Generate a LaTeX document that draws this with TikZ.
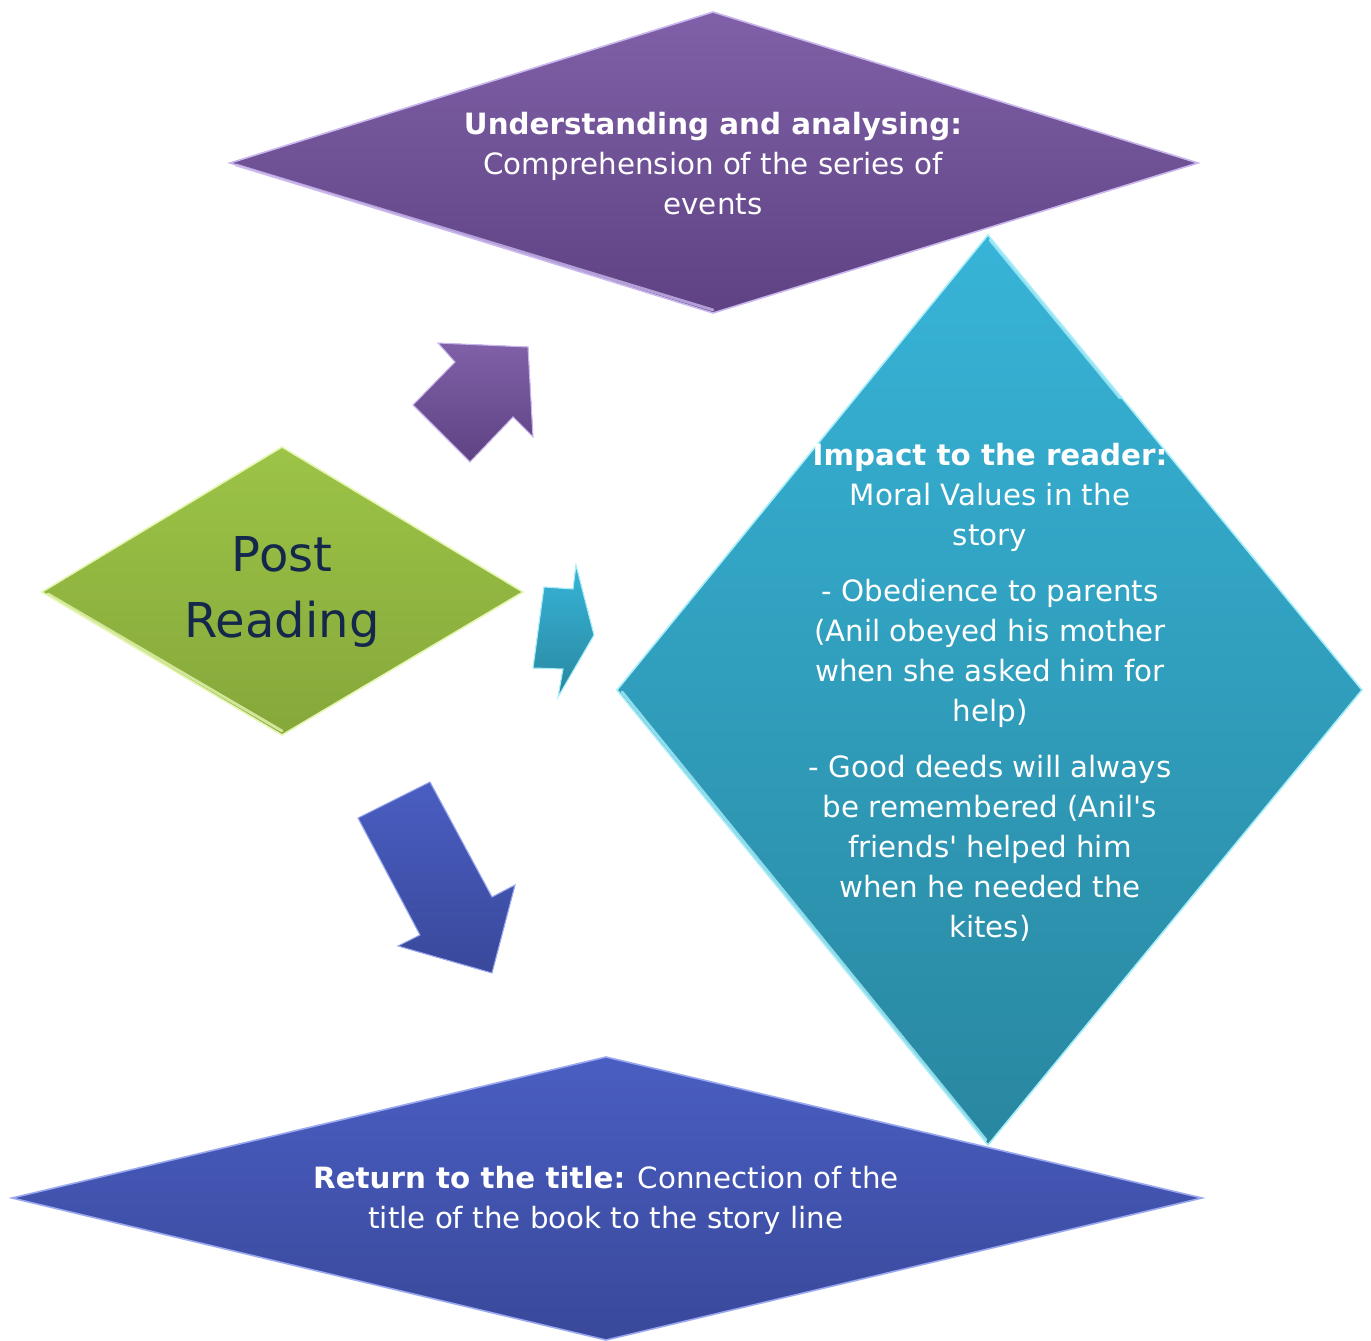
\documentclass[tikz,border=0pt]{standalone}
\usepackage{fontspec}
\setmainfont{DejaVu Sans}[Ligatures=TeXOff]
\definecolor{purpT}{HTML}{8060A8}
\definecolor{purpB}{HTML}{5E4283}
\definecolor{purpE}{HTML}{C9B6EC}
\definecolor{grnT}{HTML}{9CC447}
\definecolor{grnB}{HTML}{86A73A}
\definecolor{grnE}{HTML}{E4F6B0}
\definecolor{cyT}{HTML}{37B4D8}
\definecolor{cyB}{HTML}{2987A0}
\definecolor{cyE}{HTML}{A8EEFA}
\definecolor{blT}{HTML}{4A5EC2}
\definecolor{blB}{HTML}{39489A}
\definecolor{blE}{HTML}{9AA8F0}
\definecolor{navy}{HTML}{14284B}
\tikzset{
  shp/.style={line width=1.2pt, line join=miter},
  purpshape/.style={shp, top color=purpT, bottom color=purpB, draw=purpE},
  grnshape/.style={shp, top color=grnT, bottom color=grnB, draw=grnE},
  cyshape/.style={shp, top color=cyT, bottom color=cyB, draw=cyE},
  blshape/.style={shp, top color=blT, bottom color=blB, draw=blE},
  bevel/.style={line width=2.2pt, line cap=round, opacity=0.8},
  wtxt/.style={align=center, text=white, font=\fontsize{22}{30}\selectfont, inner sep=0pt},
}
\begin{document}
\begin{tikzpicture}[x=0.75pt,y=-0.75pt]
\useasboundingbox (0,0) rectangle (1371,1341);
% top purple diamond
\filldraw[purpshape] (230,163) -- (713,12) -- (1198,163) -- (713,313) -- cycle;
\draw[bevel, draw=purpE] (236,165) -- (713,310);
\node[wtxt] (understand) at (713,164) {\textbf{Understanding and analysing:}\\Comprehension of the series of\\events};
% bottom blue diamond
\filldraw[blshape] (12,1198) -- (606,1057) -- (1202,1198) -- (606,1340) -- cycle;
\node[wtxt] (returnt) at (606,1200) {\textbf{Return to the title:} Connection of the\\title of the book to the story line};
% cyan diamond
\filldraw[cyshape] (988,235) -- (1362,690) -- (988,1145) -- (617,690) -- cycle;
\draw[bevel, draw=cyE] (622,692) -- (986,1140);
\draw[bevel, draw=cyE] (990,240) -- (1120,398);
\node[wtxt] (impact) at (990,692) {\textbf{Impact to the reader:}\\Moral Values in the\\story\\[12pt]- Obedience to parents\\(Anil obeyed his mother\\when she asked him for\\help)\\[12pt]- Good deeds will always\\be remembered (Anil's\\friends' helped him\\when he needed the\\kites)};
% green diamond
\filldraw[grnshape] (42,592) -- (282,447) -- (523,592) -- (282,735) -- cycle;
\draw[bevel, draw=grnE] (48,594) -- (282,731);
\node[align=center, text=navy, font=\fontsize{36}{50}\selectfont, inner sep=0pt] (post) at (282,592) {Post\\Reading};
% arrows
\filldraw[purpshape, line width=0.8pt] (528,347) -- (533,437) -- (513,417) -- (470,462) -- (413,405) -- (455,362) -- (438,343) -- cycle;
\filldraw[cyshape, line width=0.8pt] (544,587) -- (573,589) -- (576,565) -- (594,635) -- (558,697) -- (563,669) -- (533,668) -- cycle;
\filldraw[blshape, line width=0.8pt] (358,818) -- (430,782) -- (492,897) -- (515,885) -- (492,973) -- (398,946) -- (420,935) -- cycle;
\end{tikzpicture}
\end{document}
